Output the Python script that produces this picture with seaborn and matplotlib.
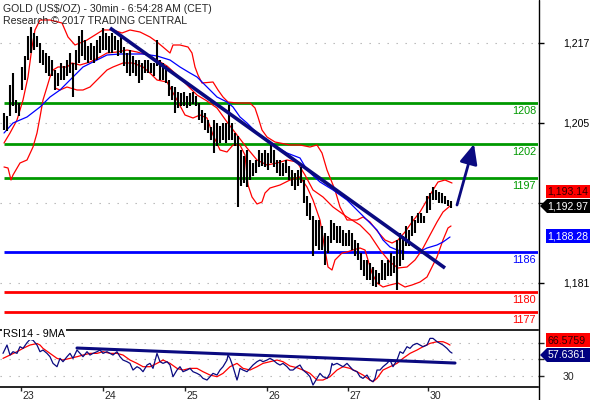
import numpy as np
import pandas as pd
import matplotlib
matplotlib.use("Agg")
import matplotlib.pyplot as plt
from matplotlib.patches import Polygon
from matplotlib.lines import Line2D
import seaborn as sns

sns.set_style("white")
plt.rcParams['font.family'] = ['Liberation Sans', 'DejaVu Sans']

# ---------------- data ----------------
date_labels = ["23", "24", "25", "26", "27", "30"]
date_slots = [21, 103, 185, 267, 348, 428]

bar_highs = [1206.5,1206.0,1210.7,1212.5,1208.5,1208.0,1213.4,1215.0,1218.0,1219.4,
1218.5,1218.0,1217.0,1216.0,1215.5,1215.0,1214.5,1213.0,1212.5,1214.0,
1213.5,1214.5,1215.5,1214.0,1216.0,1218.0,1219.0,1217.5,1216.5,1217.0,
1216.5,1217.5,1218.0,1219.2,1218.5,1218.0,1218.5,1218.0,1217.5,1218.0,
1216.4,1215.5,1216.0,1215.0,1214.5,1214.5,1214.0,1214.5,1214.5,1214.0,
1214.0,1217.5,1214.5,1214.0,1213.5,1211.5,1210.5,1210.4,1209.6,1209.5,
1209.6,1209.0,1209.5,1209.6,1209.0,1208.0,1207.0,1206.5,1205.5,1204.4,
1205.5,1205.0,1204.5,1205.0,1205.0,1207.7,1205.0,1203.5,1203.0,1201.0,
1200.0,1201.0,1199.5,1199.0,1199.5,1201.0,1200.5,1201.0,1200.5,1202.0,
1201.0,1199.5,1199.5,1199.0,1199.5,1198.5,1198.0,1197.5,1198.0,1198.4,
1196.5,1194.0,1193.0,1191.0,1190.5,1190.5,1189.5,1188.5,1188.0,1190.5,
1190.0,1189.5,1189.5,1189.0,1188.5,1189.0,1188.5,1187.5,1187.0,1185.5,
1184.5,1184.5,1184.0,1183.4,1183.0,1182.5,1184.5,1184.0,1184.5,1185.5,
1185.0,1187.5,1188.5,1188.0,1189.5,1189.0,1191.0,1190.5,1191.5,1191.5,
1191.0,1194.0,1194.5,1195.4,1195.0,1194.6,1194.5,1194.0,1193.5,1193.3]

bar_lows = [1204.0,1203.8,1206.0,1207.5,1206.5,1206.0,1210.0,1211.5,1214.5,1215.5,
1216.0,1216.4,1214.0,1213.7,1212.5,1212.0,1212.0,1210.0,1210.5,1211.5,
1211.5,1212.0,1212.5,1208.9,1213.0,1214.0,1215.0,1214.5,1214.0,1214.5,
1214.0,1214.5,1215.5,1216.0,1216.0,1215.5,1215.5,1216.0,1215.0,1215.5,
1213.5,1212.5,1212.0,1212.5,1212.0,1211.0,1211.5,1212.5,1212.5,1212.5,
1212.0,1213.5,1211.5,1211.5,1211.0,1209.0,1208.5,1206.5,1207.3,1207.5,
1207.5,1207.3,1207.5,1207.8,1207.5,1205.5,1205.0,1204.0,1203.5,1202.5,
1200.5,1201.5,1202.0,1202.5,1202.0,1202.5,1202.5,1201.5,1192.4,1195.5,
1196.0,1195.4,1196.5,1197.0,1197.5,1198.4,1198.5,1198.4,1198.0,1199.0,
1198.4,1197.5,1197.0,1197.0,1197.5,1196.5,1195.5,1195.0,1195.5,1196.0,
1193.0,1191.0,1190.5,1185.0,1186.5,1186.0,1186.0,1183.7,1185.5,1187.0,
1187.5,1187.0,1187.0,1186.5,1186.5,1186.5,1186.0,1185.0,1184.5,1183.0,
1182.0,1181.5,1181.5,1180.5,1180.4,1180.8,1181.5,1181.5,1182.0,1182.0,
1182.5,1180.0,1183.5,1184.5,1186.5,1186.5,1188.0,1188.5,1190.0,1190.0,
1190.0,1191.5,1192.0,1193.5,1193.5,1193.0,1193.0,1192.8,1192.5,1192.3]

upper_x = [4,10,17,23,28,32,35,40,50,62,68,75,87,95,103,113,122,130,140,150,157,163,170,173,180,188,192,195,198,202,213,218,223,228,237,250,255,258,262,267,275,290,300,310,317,322,327,335,340,347,357,363,370,378,385,392,398,405,412,420,427,433,438,445,452]
upper_y = [1202.0,1203.5,1205.45,1208.45,1211.9,1216.4,1218.95,1220.45,1220.45,1220.0,1217.9,1216.7,1217.45,1218.2,1218.95,1218.95,1218.5,1218.95,1218.65,1217.9,1217.15,1216.4,1215.5,1216.7,1216.7,1216.4,1215.5,1213.4,1212.2,1211.0,1211.15,1209.95,1208.9,1208.15,1208.0,1208.0,1207.25,1205.9,1203.95,1202.9,1202.15,1201.7,1201.7,1201.4,1201.7,1200.5,1197.95,1194.95,1192.4,1190.45,1190.45,1190.9,1190.15,1188.65,1187.45,1187.0,1187.45,1188.65,1190.15,1191.65,1193.45,1194.95,1196.15,1196.45,1196.0]

middle_x = [4,8,11,13,20,27,33,37,40,43,47,50,53,58,67,72,80,90,100,107,117,127,137,147,157,167,177,187,197,207,217,227,237,247,257,267,277,287,297,305,313,323,333,347,360,370,380,390,398,407,415,422,430,437,443,450]
middle_y = [1198.4,1198.25,1196.45,1197.2,1199.0,1199.45,1201.4,1203.5,1205.9,1208.45,1210.4,1211.9,1212.95,1213.4,1213.4,1214.0,1213.7,1214.15,1214.9,1215.5,1215.65,1215.95,1215.65,1215.2,1214.45,1213.55,1212.2,1210.7,1209.2,1208.3,1207.25,1205.15,1203.2,1201.25,1199.45,1198.7,1199.0,1199.45,1199.15,1197.2,1194.95,1193.9,1192.4,1190.9,1189.7,1188.2,1185.95,1184.15,1183.25,1183.4,1184.45,1185.95,1188.2,1190.15,1191.65,1192.55]

lower_x = [55,60,67,77,83,90,100,107,113,123,133,143,150,157,167,177,185,193,200,207,213,220,227,233,240,245,248,252,257,262,265,270,280,290,300,307,313,320,325,328,332,335,342,347,353,360,365,368,372,377,383,390,398,405,412,420,427,432,437,443,448,451]
lower_y = [1210.25,1209.95,1210.4,1209.95,1209.95,1210.4,1211.9,1212.95,1213.4,1214.0,1214.0,1213.4,1212.5,1211.45,1211.15,1208.45,1206.2,1205.75,1206.2,1205.75,1203.2,1200.95,1200.65,1201.7,1201.7,1200.2,1195.7,1193.9,1192.85,1193.15,1194.5,1195.25,1195.7,1196.45,1196.9,1195.4,1193.45,1190.45,1185.95,1183.4,1182.95,1184.45,1185.5,1185.65,1185.95,1186.25,1185.95,1184.45,1182.5,1181.0,1180.4,1180.7,1181.0,1180.4,1180.7,1181.15,1181.9,1183.4,1184.9,1187.45,1189.25,1189.55]

ma_x = [4,13,27,40,50,60,73,83,97,107,120,133,143,157,170,180,190,197,207,217,227,233,240,247,257,267,277,287,300,307,320,333,347,357,367,377,383,390,397,407,417,427,437,443,450]
ma_y = [1203.5,1205.0,1205.9,1207.4,1208.9,1209.95,1211.9,1213.4,1214.45,1215.2,1215.35,1215.35,1215.35,1215.05,1214.45,1213.4,1212.5,1211.9,1210.4,1208.9,1208.15,1207.4,1205.9,1205.0,1203.5,1202.45,1201.4,1200.5,1199.75,1197.95,1196.15,1194.95,1193.45,1191.95,1190.45,1188.95,1187.45,1186.4,1185.95,1185.65,1185.5,1186.25,1186.7,1187.15,1187.9]

level_values = [1208.0, 1201.9, 1196.8, 1185.7, 1179.7, 1176.6]
level_labels = ["1208", "1202", "1197", "1186", "1180", "1177"]
level_colors = ["#009900", "#009900", "#009900", "#0000ff", "#ff0000", "#ff0000"]

trend_x = [110, 445]
trend_y = [1219.25, 1183.25]
target_x = [457, 474]
target_y = [1192.7, 1201.85]

rsi_x = [3,7,10,13,17,20,23,27,30,33,37,40,43,47,50,53,57,60,63,67,70,73,77,80,83,87,90,93,97,100,103,107,110,113,117,120,123,127,130,133,137,140,143,147,150,153,157,160,163,167,170,173,177,180,183,187,190,193,197,200,203,207,210,213,217,220,223,227,228,230,233,237,238,240,243,247,250,253,257,260,263,267,270,273,277,280,283,287,290,293,297,300,303,307,310,313,317,320,323,327,330,332,333,337,340,343,347,350,353,357,360,363,367,370,373,375,377,380,383,387,390,393,397,400,403,407,410,413,417,420,423,427,430,433,437,440,443,447,450,452]
rsi_y = [57.2,67.2,55.2,59.2,57.2,65.2,63.2,70,74,73,67.2,59.2,61.2,57.2,53.2,45.2,41.2,51.2,47.2,53.2,57.2,51.2,61.2,57.2,53.2,59.2,55.2,57.2,59.2,61.2,57.2,59.2,57.2,55.2,59.2,53.2,49.2,47.2,45.2,37.2,41.2,39.2,35.2,43.2,45.2,39.2,57.2,47.2,45.2,47.2,43.2,29.2,37.2,41.2,35.2,37.2,39.2,35.2,33.2,31.2,27.2,25.2,29.2,33.2,31.2,37.2,41.2,49.2,55.2,51.2,41.2,25.2,29.2,39.2,37.2,35.2,39.2,43.2,47.2,49.2,47.2,49.2,51.2,49.2,45.2,43.2,45.2,41.2,37.2,37.2,41.2,43.2,37.2,33.2,29.2,19.2,27.2,33.2,29.2,27.2,33.2,45.2,43.2,45.2,43.2,41.2,45.2,41.2,37.2,35.2,29.2,27.2,31.2,25.2,23.2,27.2,37.2,37.2,41.2,45.2,49.2,41.2,49.2,59.2,57.2,65.2,63.2,67.2,69.2,67.2,65.2,67.2,75.2,75.2,71.2,69.2,67.2,63.2,59.2,57.6]

rsima_x = [3,10,17,23,30,37,40,43,50,57,63,70,77,83,90,97,103,110,117,123,130,137,143,150,157,163,170,177,183,190,197,203,210,217,223,230,237,243,250,257,263,270,277,283,290,297,303,310,317,323,330,337,343,350,357,363,370,373,377,383,390,397,403,410,417,423,430,437,443,447,450]
rsima_y = [51.2,55.2,59.2,63.2,67.2,69,67.2,63.2,57.2,51.2,49.2,51.2,53.2,55.2,57.2,57.2,59.2,57.2,57.2,55.2,49.2,45.2,41.2,41.2,45.2,49.2,45.2,39.2,37.2,39.2,39.2,35.2,31.2,29.2,33.2,41.2,45.2,39.2,37.2,41.2,45.2,47.2,49.2,47.2,42,40,37.2,33.2,25.2,25.2,29.2,37.2,41.2,39.2,35.2,31.2,25.2,23.2,27.2,37.2,41.2,45.2,51.2,57.2,61.2,65.2,69.2,71.2,71.2,69.2,67.2]

rsi_trend_x = [77, 455]
rsi_trend_y = [63.6, 45.6]

main_ticks = [1181, 1193, 1205, 1217]
main_tick_labels = ["1,181", "", "1,205", "1,217"]   # 1,193 sits under the price tags
rsi_ticks = [30, 50, 70]
rsi_tick_labels = ["30", "", ""]                      # 50 / 70 sit under the RSI tags

# ---------------- layout ----------------
W, H = 590, 400
def fx(x): return x / W
def fy(y): return 1 - y / H

fig = plt.figure(figsize=(5.9, 4.0), dpi=100)
ax = fig.add_axes([0, fy(330), fx(538), 330 / H])
axr = fig.add_axes([0, fy(387), fx(538), 57 / H])

NAVY = "#0a0a80"

# main panel
ax.set_xlim(0, 538)
ax.set_ylim(1173.95, 1223.45)
for v in main_ticks:
    ax.axhline(v, color="#b0b0b0", lw=0.8, ls=(0, (1.2, 6.9)), zorder=1)

ax.hlines(level_values, 4, 538, colors=level_colors, lw=2.0, zorder=2)
for v, lab, c in zip(level_values, level_labels, level_colors):
    ax.annotate(lab, xy=(536, v), xytext=(0, -2.2), textcoords="offset points",
                ha="right", va="top", color=c, fontsize=7.8, zorder=6)

bar_slots = np.arange(4, 4 + 3 * len(bar_highs), 3)
ax.vlines(bar_slots, bar_lows, bar_highs, colors="black", lw=1.5, zorder=4)

curves = pd.concat([
    pd.DataFrame({"slot": upper_x, "price": upper_y, "line": "upper"}),
    pd.DataFrame({"slot": middle_x, "price": middle_y, "line": "middle"}),
    pd.DataFrame({"slot": lower_x, "price": lower_y, "line": "lower"}),
])
sns.lineplot(data=curves, x="slot", y="price", units="line", estimator=None,
             sort=False, color="#ff0000", lw=0.9, ax=ax, zorder=3, legend=False)
sns.lineplot(x=ma_x, y=ma_y, sort=False, color="#0000ff", lw=0.9, ax=ax, zorder=3)

ax.plot(trend_x, trend_y, color=NAVY, lw=2.6, zorder=5, solid_capstyle="butt")
ax.annotate("", xy=(target_x[1], target_y[1]), xytext=(target_x[0], target_y[0]),
            arrowprops=dict(arrowstyle="-|>,head_length=1.0,head_width=0.45",
                            color=NAVY, lw=2.0, mutation_scale=12, shrinkA=0, shrinkB=0),
            zorder=5)

for s in ["top", "left", "bottom", "right"]:
    ax.spines[s].set_visible(False)
ax.set_xticks([])
ax.yaxis.tick_right()
ax.set_yticks(main_ticks)
ax.set_yticklabels(main_tick_labels)
ax.tick_params(axis="y", direction="out", length=4, width=1, pad=14, labelsize=7.6,
               colors="black")
ax.set_xlabel("")
ax.set_ylabel("")

# RSI panel
axr.set_xlim(0, 538)
axr.set_ylim(16.84, 85.24)
for v in rsi_ticks:
    axr.axhline(v, color="#b0b0b0", lw=0.8, ls=(0, (1.2, 6.9)), zorder=1)
sns.lineplot(x=rsima_x, y=rsima_y, sort=False, color="#ff0000", lw=0.9, ax=axr, zorder=3)
sns.lineplot(x=rsi_x, y=rsi_y, sort=False, color=NAVY, lw=0.9, ax=axr, zorder=3)
axr.plot(rsi_trend_x, rsi_trend_y, color=NAVY, lw=2.2, zorder=4)
axr.text(3, 80.5, "RSI14 - 9MA", fontsize=7.8, color="black", va="center", ha="left",
         zorder=6, bbox=dict(facecolor="white", edgecolor="none", pad=0.5))
axr.spines["left"].set_visible(False)
axr.spines["right"].set_visible(False)
for s in ["top", "bottom"]:
    axr.spines[s].set_linewidth(1.2)
    axr.spines[s].set_color("black")
axr.yaxis.tick_right()
axr.set_yticks(rsi_ticks)
axr.set_yticklabels(rsi_tick_labels)
axr.tick_params(axis="y", direction="out", length=4, width=1, pad=14, labelsize=7.6)
axr.set_xticks(date_slots)
axr.set_xticklabels([])
axr.tick_params(axis="x", direction="out", length=3.2, width=1, bottom=True)
axr.set_xlabel("")
axr.set_ylabel("")
for xs, lab in zip(date_slots, date_labels):
    fig.text(fx(xs + 1.5), fy(399), lab, fontsize=7.6, ha="left", va="baseline")

# right axis line across full height
fig.add_artist(Line2D([fx(538.5)] * 2, [0, 1], color="black", lw=1.0))

# title
fig.text(fx(3), fy(12), "GOLD (US\\$/OZ) - 30min - 6:54:28 AM (CET)", fontsize=7.6,
         ha="left", va="baseline")
fig.text(fx(3), fy(24), "Research \u00a9 2017 TRADING CENTRAL", fontsize=7.6,
         ha="left", va="baseline")

# price tags
def tag(y0, y1, face, text, tcolor, arrow=False):
    if arrow:
        ym = (y0 + y1) / 2
        pts = [(540, ym), (547, y0), (592, y0), (592, y1), (547, y1)]
    else:
        pts = [(546, y0), (592, y0), (592, y1), (546, y1)]
    poly = Polygon([(fx(a), fy(b)) for a, b in pts], closed=True,
                   transform=fig.transFigure, facecolor=face, edgecolor="none", zorder=10)
    fig.add_artist(poly)
    fig.text(fx(547.5), fy((y0 + y1) / 2 + 0.5), text, color=tcolor, fontsize=7.6,
             ha="left", va="center", zorder=11)

tag(185, 198, "#ff0000", "1,193.14", "#300000")
tag(199, 213, "#000000", "1,192.97", "white", arrow=True)
tag(229, 243, "#0000ff", "1,188.28", "white")
tag(333, 347, "#ff0000", "66.5759", "#300000")
tag(348, 362, "#000080", "57.6361", "white", arrow=True)

fig.savefig("out.png", dpi=100)
